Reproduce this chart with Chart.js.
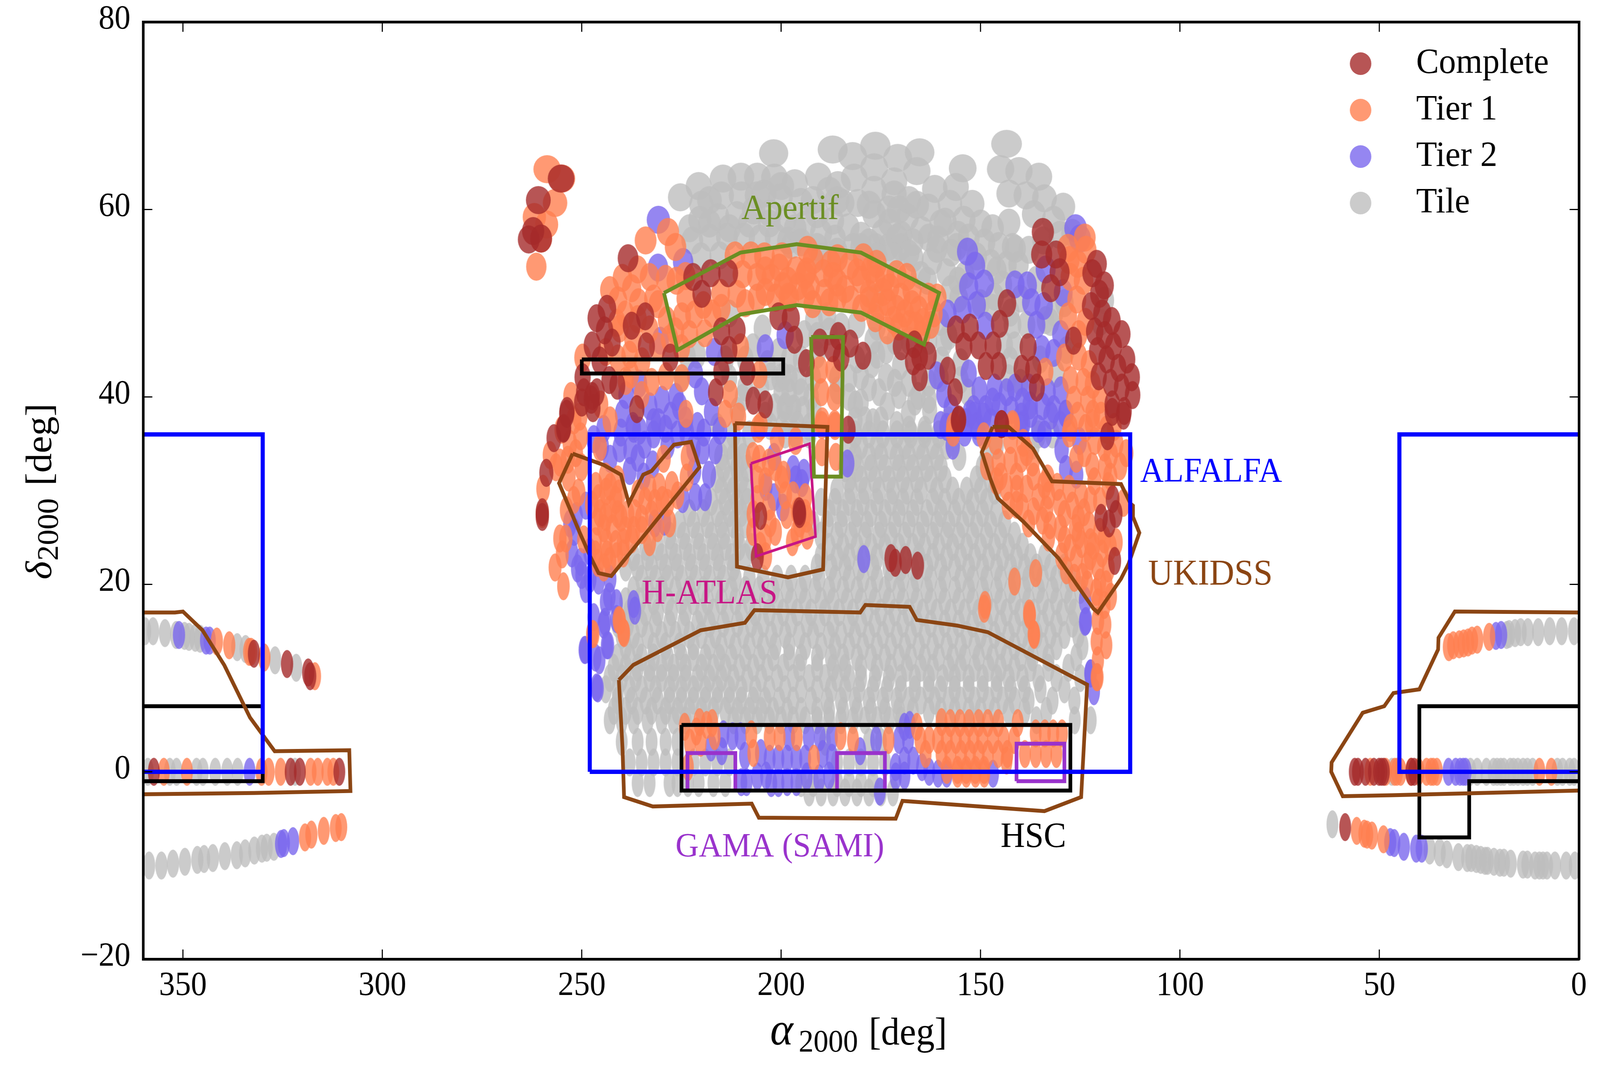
<!DOCTYPE html>
<html>
<head>
<meta charset="utf-8">
<script src="https://cdn.jsdelivr.net/npm/chart.js@4"></script>
<style>
  html, body { margin: 0; padding: 0; background: #fff; overflow: hidden; }
</style>
</head>
<body>
<!-- the window can come out narrower than asked for, so the drawing is fitted to it -->
<canvas id="sky" width="4317" height="2735" style="display:block;width:100vw;height:100vh"></canvas>
<script>
// Tile centres, [ra, dec] in degrees

const complete = [
  [255.2,63.3],[260.9,61],[262.2,57.7],[263.3,56.8],[260.2,56.9],[238.4,54.8],[222.1,52.8],[217.7,53.2],[213.3,53.2],[219.9,51],
  [243.7,49.4],[246.3,48.4],[234.1,48.6],[244.3,47.1],[237.5,47.6],[242.4,45.8],[247.4,45.5],[233.8,45.4],[227.8,44.2],[245.5,43.9],
  [215,47],[211.1,47.1],[213.1,45],[200.7,48.6],[197.6,48.4],[196.7,46.1],[215,42.7],[208.5,42.7],[249.8,42.1],[243.1,41.8],
  [241.1,41.2],[249.5,40.5],[246.2,40.5],[250,39.4],[247.4,40.1],[247.2,38.8],[247.6,39.7],[253.7,38.5],[254.5,36.7],[236.2,38.7],
  [216.4,40.5],[207,39.6],[204,39.2],[134.4,57.6],[134.7,55.2],[131.1,55.2],[130.2,53.3],[132.4,51.6],[120.9,54.2],[122,53.2],
  [119,51.9],[120.2,51],[122.3,49.7],[119.5,48.9],[117.1,48.1],[114.6,46.7],[121.4,47],[118.9,46.6],[116.7,45.4],[120.7,44.9],
  [113.3,44],[118.4,44],[115.5,43.1],[120.4,42.2],[117.4,41.5],[114.6,41],[112.1,42.1],[111.9,40.2],[117,39.2],[114,38.5],
  [126.7,46],[143.4,50],[156.2,47.2],[152.7,47.4],[145.2,47.8],[154.2,45.4],[150.6,45.5],[146.9,45.5],[148.7,43.3],[145.5,43.3],
  [138.1,45.3],[139.7,43],[136.8,42.9],[135.9,41],[158.3,42.8],[156.4,40.5],[155.5,37.6],[144.7,37.1],[193.7,43.6],[190.3,45.8],
  [187.2,45.2],[185.7,46.5],[182.7,45.7],[185,44.2],[179.5,44.4],[169.9,45.4],[166.6,45.6],[166.9,43.8],[165.3,44.3],[163.1,44.4],
  [165.3,42.1],[183.2,36.5],[258.9,31.9],[259.9,27.7],[259.9,27.2],[257,35.6],[254.6,36.6],[253.8,38.2],[206,22.9],[205.2,27.3],
  [195.5,27.8],[195.4,27.5],[155.6,37.5],[144.8,37.1],[117,38.4],[114.2,38],[118.2,35.8],[172.5,22.8],[171.4,22.3],[168.8,22.6],
  [165.8,22],[116.9,29.1],[119.8,27.1],[117.8,26.5],[116.1,27.5],[116.4,22.5],[332.2,12.6],[323.9,11.5],[318.6,10.6],[318.1,10.2],
  [357.3,0],[323,0],[320.7,0],[310.8,0],[56.2,0],[55.4,0],[53.5,0],[51.4,0],[50.1,0],[49.5,0],
  [48.9,0],[42,0],[41.3,0],[58.6,-5.9]
];

const tier1 = [
  [258.7,64.3],[255,63.3],[256.7,60.7],[261.9,59.2],[258.8,58.4],[260.2,56.9],[261.4,53.9],[234,56.7],[228.4,57.6],[226.5,56],
  [236,53.6],[239.8,52.7],[243,51.4],[237.5,51.6],[241,50.3],[235.8,50.1],[226.3,52.4],[230.9,49.9],[228.7,48.2],[239.1,48.8],
  [241.2,47.9],[224.9,48.6],[221.8,48.8],[217.3,48.9],[223.9,50.5],[215.2,51.1],[211.1,51],[211.6,55.1],[207.6,55.1],[204.2,55],
  [199.8,55],[209.7,53.1],[206.1,52.8],[202.5,52.7],[198.3,52.4],[201.4,50.6],[197.9,50.6],[223,46.7],[226.5,47],[219.2,46.8],
  [240.5,47.3],[237.2,46.2],[231,45.4],[241,44.1],[234.9,43.8],[237.7,42.4],[232.5,41.6],[228.9,42.2],[224.9,42],[210.2,45.3],
  [205.5,42.4],[212.8,40.3],[214,38.2],[210.7,37.9],[223.9,38.2],[249.8,44.2],[252.7,40.1],[250.5,37.9],[242.9,37.5],[245.3,39.2],
  [205.2,36.9],[193.4,55.7],[196.3,53.5],[193.6,53.4],[189.4,53.2],[185.9,54.8],[182.9,54],[179.4,54.9],[176.1,54.2],[171.1,53.1],
  [176.4,52.6],[172.8,51.7],[179.9,52.5],[185.9,52.2],[189.1,51.1],[192.7,51.8],[195.7,51.8],[198.3,50.7],[192.1,49.9],[182.6,50.4],
  [185.9,50.6],[179.9,49.5],[176.4,48.4],[173.4,50.1],[171.1,49.4],[167.2,51.4],[167.2,49.9],[163.1,50.7],[160.9,50.6],[164.5,48],
  [170.5,47.5],[167.8,47.8],[173.4,47.1],[164.8,46.7],[190.3,42.9],[186.9,42.9],[189.9,40.5],[186.7,40],[189.7,37.4],[186.5,36.9],
  [133.8,42.7],[142,36.9],[156.8,36.9],[123.9,57],[128.1,55.9],[123.6,55.7],[127.8,54.6],[125.7,54.2],[127.5,52.8],[124.2,52.4],
  [125.9,50.4],[128.1,48.6],[123.7,48],[125.4,46.7],[129,44.2],[125.4,44.3],[122.8,43.5],[127.5,41.8],[124.2,41.6],[121.9,41.3],
  [126.6,39.7],[123.1,39.7],[120.1,39.7],[125.7,38],[121.9,38.2],[119.8,38],[127.5,36.7],[123.7,36.7],
  [259.7,30.2],[259.9,27.5],[256.5,32.5],[253,35],[250.3,35.8],[250.1,32.5],[253.3,31.4],[250.8,29.8],[253.8,27.9],[255.5,24.9],
  [254,24.9],[254.9,23.2],[256.7,21.8],[254.6,19.8],[249.5,24.8],[245.5,34.6],[247.1,14.7],[240.5,16.1],[239.6,14.9],[241,31.2],
  [242.9,30.4],[245.8,29.2],[243.9,29.9],[240.7,29.7],[235.9,29.7],[233,30.3],[230.6,30.4],[227.4,30.6],[229.5,33.4],[223.4,33.6],
  [223.7,31.4],[228.5,28.7],[231.7,28.7],[234.1,28.9],[236.7,27.6],[240.2,27.1],[242.9,28],[245.5,27.6],[239.1,25.8],[242.3,26],
  [244.5,26],[246.1,26.7],[234.9,25.8],[237,25.8],[246.6,24.6],[243.9,24.5],[241.5,24.3],[239.6,24.5],[246.6,23.2],[243.7,23.2],
  [241.3,23],[239.6,23.3],[205.8,36.6],[207.1,33.7],[205.5,33.4],[203.1,33],[201.5,32.5],[199.4,31.7],[199.9,31.2],[196.4,35.3],
  [206,29.1],[203.1,28.3],[202.8,26.5],[201.5,25.6],[207.1,25.6],[205.3,24.1],[203.9,23],[198.6,27.4],[197,29.5],[194,29.3],
  [195.9,27.8],[194,27.6],[195.4,26.5],[197.2,24.5],[193.5,25.2],[189.8,37],[186.6,37.1],[189.8,34.1],[186.3,33.6],
  [156.9,36.2],[142,37.1],[149.2,35.8],[146.3,35.3],[142.5,35.4],[139.3,35.1],[148.4,32.6],[145.5,33],[142.5,33.2],[139.8,33.4],
  [138.5,34.1],[136.7,31.5],[143.6,30.4],[140.9,30.2],[138.5,30.2],[134,30.6],[130.8,30.4],[127.8,30.2],[143,28.4],[139.6,28.2],
  [136.7,27.8],[133.5,28],[130.2,28.7],[127,28.4],[124.1,27.7],[122.5,29],[120.1,28.9],[132.6,26.3],[130,26],[126.2,26],
  [122.8,26.3],[120.1,25.6],[114.2,28.7],[129.7,23],[127.6,23.9],[124.7,24.3],[121.7,24.1],[119.6,23.3],[126.5,20.7],[123.3,22],
  [120.6,21.9],[118,21.7],[123.3,20],[120.1,20.2],[117.4,18.7],[120.6,18.1],[119,17.8],[120.6,16.1],[118.8,15.7],[120.9,13.9],
  [118.5,13.5],[120.6,11.9],[120.9,10.1],[127.8,36.1],[121.4,35.3],[117.4,33.8],[115,32.6],[122,32.6],[118.8,32.5],[133.2,31.3],
  [148.9,17.8],[141.5,20.3],[136.2,21.2],[137.8,16.9],[136.6,14.6],
  [224.2,4.8],[220.5,5.3],[218.7,5],[217.3,5.2],[221.3,4.3],[216.7,3.8],[222.9,3.1],[220.2,3.1],[223.4,0.5],[207.5,4],
  [207,2],[202.9,3.7],[200.4,3.7],[196.1,3.7],[191.8,1.4],[185.1,3.8],[182,3.4],[173.1,3.4],[166,4.8],[159.8,5.3],
  [157.6,5.2],[155.2,5.2],[152.9,5.2],[150.5,5.2],[148.2,5.2],[145.6,5.2],[140.7,5.2],[165.1,3.4],[162.9,3.4],[160.7,3.4],
  [158.5,3.4],[156.2,3.4],[154,3.4],[151.8,3.4],[149.6,3.4],[146.9,3.4],[144.2,3.4],[141.6,3.4],[163.8,1.9],[159.8,1.9],
  [157.6,1.9],[154.9,1.9],[152.7,1.9],[150.5,1.9],[148.2,1.9],[145.6,1.9],[143.3,1.9],[138.9,1.9],[136.2,1.9],[133.6,1.9],
  [131,1.9],[158.5,0.2],[155.8,0.2],[153.6,0.2],[151.3,0.2],[149.1,0.2],[136.2,4.1],[133.9,4.1],[131.8,4.1],[129.6,4.1],
  [143.5,1.2],[149.1,-0.2],[155.8,-0.2],[153.6,-0.2],[151.3,-0.2],[247.4,14.7],[240.7,16.2],[239.4,14.8],[149.1,17.4],[137.7,16.7],
  [136.7,14.7],[120.7,10.1],
  [341.5,13.9],[338.4,13.5],[333.4,12.8],[332.9,12.8],[329.6,12.2],[316.9,10.2],[354.8,0],[349,0],[330.3,0],[328.5,0],
  [325.5,0],[318,0],[316.2,0],[313.8,0],[312.3,0],[319.4,-7],[317.8,-6.7],[314.7,-6.3],[311.7,-6],[310.3,-5.9],
  [32.6,13.3],[31.5,13.5],[30,13.6],[28.9,13.7],[27.8,13.8],[26.8,14],[25.5,14.1],[22.5,14.4],[52.3,0],[48.4,0],
  [46.2,0],[45.6,0],[44.7,0],[42.1,0],[40.2,0],[38.2,0],[37.1,0],[36.5,0],[35.6,0],[9.9,0],
  [6.9,0],[55.7,-6.3],[53.8,-6.6],[53.1,-6.7],[51.9,-6.8],[49,-7.2],
  // Apertif band and the filled parts of the wings
  [204,53.5],[200.5,53.8],[192,54.6],[187.5,54.2],[177.5,53.6],[174,52.7],[168.5,52.8],[181,53.3],[187,52.9],[194,53],
  [204,51.2],[199.5,51.8],[193.8,50.9],[188,50.1],[184,51.5],[178,51],[174.5,51.2],[170,50.7],[175.5,49.6],[169,48.9],
  [165.5,49.3],[161.8,48.9],[171.8,48.2],[166.3,47.6],[162.5,47.7],[178,50.3],[206,50.6],[209,50],[215,49.5],[219.5,49.8],
  [224,52.9],[229,52.6],[233,52.8],[232,50.5],[236,48.3],[233,47.2],[228,46.2],[225,45.2],[238,44.5],[244,44.8],[239,41.7],[235,40.2],
  [241,27.5],[244,27.2],[247.5,28.5],[246.5,30.5],[244,31.5],[241.5,29],[238.5,27.5],[235,27],[232.5,27.5],[229.8,29],
  [226,29.5],[237.5,24.8],[233,24.5],[231,26],[228,26.5],[243,22.5],[246,22.3],[244.5,21.8],[251.5,34],[253.5,33.3],
  [252,29],[255.5,33],[258,33.8],[255,36.5],[252,37.5],
  [137,33],[141,31.5],[145,31.5],[135.5,29.3],[133,29.5],[129,27.5],[125.5,27],[129,24.8],[125.5,25.2],[122.5,24.5],
  [126,22.8],[122.5,23],[119,24.8],[116,24.5],[124.5,20.8],[121,19.2],[118.5,20],[117.5,24],[141,28.5],[146,31],
  [118,30.5],[121.5,31],[124.8,29.5],[133,25],[128.5,21.5],[138,26.5],[134.5,26.8],[118.5,36.5],[116,35],[113.5,34],
  [124,34],[126,33.4],[119,34.6],[122,37.2],[117.5,31.5],[116.5,36.8],
  [204,31],[206,31.2],[207,27.5],[204,25],[199,29.5],[196,25.5],[193.6,27],[201,35.5]
];

const tier2 = [
  [230.8,58.9],[230.9,53.8],[224.6,54.4],[230.3,46],[216.8,44.8],[204,45.2],[199,46.6],[221.6,42.4],[219.9,40.6],[238.9,40.2],
  [235.6,41.4],[233,39],[229.9,39.7],[226.4,40],[230.8,37.3],[227.7,38],[239.8,38.2],[217.5,38.4],[237.2,36.9],[153.3,55.5],
  [151.4,54],[153,51.8],[149.1,52.1],[151,49.8],[158.3,48.9],[154.6,49.3],[148.8,47.6],[141.4,52],[138.3,51.9],[137.3,50.1],
  [134.2,49.7],[136,47.7],[126.2,58],[125.1,56.9],[133.7,53.6],[129.3,51.1],[129.9,46.7],[131.7,44.7],[134.6,45.1],[161,42.3],
  [159.2,40.3],[157.4,38.8],[150.3,40.7],[146.5,41],[141.4,41],[137.9,41],[151.8,38.7],[148.8,38.7],[145.3,39],[142.3,38.6],
  [137.6,39.1],[133.1,40.5],[129.9,40.7],[131.7,38.7],[128.7,38.2],[152.7,38.2],[150.9,36.9],[139.4,37.1],
  [245,34.7],[242.9,33.4],[240.2,36.2],[237,36.6],[234.3,34.9],[237.8,34.3],[238,32.1],[232.2,32.8],[229,36.6],[223.7,36.2],
  [219.4,36.2],[215.4,36.4],[219.7,34.3],[216.5,34.3],[218.1,31.7],[221.8,32.1],[221.5,29.3],[219.1,29.3],[224.7,29.1],[231.7,26.5],
  [229.3,26.7],[251.4,27.3],[249,28.4],[251.9,25.6],[252.5,23.3],[251.1,21.7],[250.3,22.4],[247.9,20.6],[245.8,20.4],[242.9,20.6],
  [243.1,18.7],[241.3,18],[237,17.9],[243.9,18.1],[244.5,15.7],[241.3,16.3],[243.7,13.5],[246.6,12.2],[249.3,13],[246.3,9],
  [201.8,33.6],[203.9,30.4],[201.8,29.3],[199.6,28.2],[197,32.3],[194.3,31.9],[196.4,31.2],[194.8,30.8],[183.4,32.9],[179.3,22.7],
  [129.7,34.4],[128.6,32.3],[126,31.7],[125.2,35.3],[123.8,18.3],[123.6,16.1],[122.5,10.5],[154,36.2],[150.5,36.2],[139.8,36.9],
  [153.7,37.3],[151.6,38],[149.2,37.9],[139.8,37.9],[137.5,38.2],[132.4,38],[128.6,38.2],
  [214.5,4],[212.2,3.8],[210.2,3.8],[214.9,2.2],[217.6,2.6],[198,3.7],[193.1,3.7],[190.3,3.7],[187.3,3.7],[180.2,2.2],
  [176.2,3.4],[169.1,4.8],[167.8,5],[170.5,3.4],[168.2,3.4],[209.1,1.7],[205.1,2],[202.9,1.4],[200.7,1.4],[198.5,1.4],
  [196.2,1.4],[194,1.4],[189.6,1.9],[187.3,1.5],[171.3,0.5],[169.1,1.2],[166.9,1.2],[164.7,0.5],[162.9,0],[160.7,-0.2],
  [158.5,-0.2],[146.9,-0.2],[210,-1.1],[208.7,-1.1],[206,-0.5],[203.8,-0.4],[202.5,-1.2],[200.7,-1.2],[198.5,-1.1],[196.2,-1.1],
  [193.6,-0.5],[190.5,-0.7],[188,-0.4],[175.3,-2.1],[171.3,-0.5],[169.1,-0.4],[249.1,13],[245.6,11.9],[246,8.9],[243.4,13.5],
  [244.2,16],[236.7,17.2],[123.8,16],[122.4,10.5],[121.6,8.6],
  [351,14.6],[344.2,14],[343.3,14],[333.3,0],[325.4,-7.7],[324.7,-7.6],[322.4,-7.4],[20.8,14.5],[19.5,14.6],[32.7,0],
  [30.9,0],[29.8,0],[29,0],[28.4,0],[47.3,-7.5],[46.3,-7.6],[43.9,-8],[40.8,-8.2],[39.4,-8.2],
  [224,37.5],[221,36.9],[226,36],[232,36],[235.5,36.4],[228.5,34.8],[240.5,34.5],[244.5,36.6],[247,35.5],[225.5,39],
  [232,37.3],[236,33.5],[222,34.5],[234.5,31.5],[147,39.5],[143.5,40.5],[139.5,39.5],[134.5,39],[147.5,37.3],[153,42.5],
  [160,37],[158.5,36.8],[135.5,36.6],[130,37],[134,36],[157,34.8],[250,21],[253,26.5],[249,19.5],[248,23.5],[247,16.5]
];

// grey tiles in the northern cap and the three equatorial strips
const tileNorth = [
  [201.9,66],[225.3,61.3],[220.7,62.5],[214.6,63.3],[210.1,63.5],[206,63.5],[201.7,63.4],[218,61],[204.3,61.7],[220.4,58.9],
  [215.9,59.2],[211.1,59.4],[206.9,59.9],[202.8,59.6],[200.2,61.3],[222.3,56.7],[217.9,57],[213.6,57.1],[209.3,57.1],[205.4,56.9],
  [201.4,57.1],[197.4,56.2],[220.1,55],[215.4,55.1],[187.1,66.4],[182.1,65.7],[176.4,66.8],[170.8,65.5],[165.3,66.1],[143.5,67],
  [154.5,64.4],[145,64.3],[140.4,64.1],[135.4,63.5],[190.7,63.5],[196.6,62.8],[185.8,62.6],[181.7,63.4],[176.7,64.5],[171.7,63],
  [166,64.1],[161.5,62.2],[156.2,62.4],[142.9,61.7],[138.6,61.5],[134,61.2],[129.3,60.3],[195.1,60.8],[176.7,62.1],[171.7,61.6],
  [152.1,60.6],[157.7,60.6],[163.1,60.2],[184.7,60.7],[180.8,60.7],[176.7,59.5],[168.4,59.2],[172.8,58.6],[154.2,58.9],[158.9,58.7],
  [142.9,58.6],[136.7,59.5],[131.7,58.9],[164.8,57.8],[155.7,57.3],[160.7,56.8],[169.9,57.3],[180,57.2],[183.2,58.1],[186.5,56.9],
  [187.1,58.8],[194.1,58.4],[198.3,56.7],[174.6,57.5],[176.4,56],[173.1,56],[166.9,54.8],[162.2,54.5],[157.4,55.4],[145.5,56.1],
  [141.3,55.8],[137.9,55.7],[134.3,56.7],[130.2,57.3],[163.4,52.4],[158.6,53.3],[147.4,54.3],[143.5,54.1],[140.5,54.1],[155.7,52.4],
  [118.9,50.3],[142,47.7],[133.7,48.2],[146.5,50.7],[188.5,48.6],[191.8,48.2],[181.1,47.7],[194.2,46.7],[177,46],[173.7,45],
  [177.3,43.5],[170.2,43.3],[173.7,42.1],[180,42.2],[170.5,40.2],[165.7,40.1],[173.4,39],[180,39.4],[177,37.3],[199.5,42.2],
  [195.7,41.7],[198.9,39],[196.8,38.8],[194.5,38.6],[191.8,38.6],[185.9,40.7],[182.9,42],[181.4,39.2],[168.1,38.2],[162.8,38.6],
  [155,41.8],[155,43.7],[153.3,40.5],[159.8,43.9],[159.2,45.8],[142.6,43.9],[132.5,48],[138.5,47.7],[223.5,44.3],[213,48.9],
  [204.7,47.3],[207.1,45.3],[200.7,44.8],[202.6,42.2],[200.5,42],[197.9,42],[209.7,39.9],[201.6,38.9],[199.3,38.8],[197.1,38.7],
  [202.8,36.9],[176.5,50.5],[170,56],[191,44.5],[188,47],
  [168,61],[173,60],[178,60.5],[186,61],[191,59.5],[199,59],[196.5,58],[190,57.5],[203,58.5],[208,58.5],
  [213,58],[218,58.5],[223,58],[220,60.5],[215,61.5],[210,61.5],[206,61.5],[200,62.5],[192,61],[188,62],
  [170.5,60],[166,60.5],[160,58.5],[163,57],[167,56.5],[171,57],[178,56.5],[182,56],[191,56],[195,56.5],
  [150,58.5],[149,56.5],[147,58],[151,55],[156,56],[161,55.8],[165,53],[168,55.3],[172,55],[176,55],
  [180,56],[186,55.5],[190,55],[154,53],[157.5,51.5],[150,50],[146,53.5],[144.5,52],[140,50.5],[142.5,49],
  [147,49.5],[155.5,50.5],[160,48],[158,46.5],[163,46],[168,46],[171.5,46],[176,47.5],[185,47.5],[191,46.5],
  [198,44],[195,44],[203.5,43.5],[209,44],[214,44],[221,44.5],[225,42],[176,44.5],[181,44],[186,42],
  [192,42],[195,40.5],[200,40.5],[205,41],[209,41],[213,42],[175.5,40.5],[171.5,41.5],[168,41.5],[163,41.5],
  [160,42],[166.5,39.5],[163,39.7],[158,37.5],[175,37.5],[171,37],[168,36.5],[164,36.5],[199.5,37],[196,37],
  [193,36.8],[208,36],[204,38],[181.5,37.5],[179,37.5],[178,41],[183,40],[192.5,40],[198,40.5],[211,38.5],
  [216,36.8],[144,45.5],[141.5,45.5],[143,42],[140,41.5],[131,42.5],[128.5,45],[135,44],[129,50],[131.5,49],
  [127,57.5],[136,52.5],[142,56],[153,57],[120,48]
];

const tileStrips = [
  [359.5,15],[357.5,15],[354.5,14.8],[351.7,14.6],[349.6,14.5],[348.5,14.4],[346.9,14.3],[345.7,14.2],[336.4,13.3],[334.3,13.1],
  [326.9,11.9],[321.6,11.1],[358.8,0],[353.3,0],[351.6,0],[346.6,0],[345,0],[341.9,0],[338.9,0],[336.3,0],
  [321.9,0],[358.5,-10],[355.4,-10],[352.5,-9.8],[349.5,-9.6],[346.4,-9.4],[344.7,-9.3],[342.5,-9.2],[339.5,-9],[336.5,-8.9],
  [334.4,-8.7],[332.1,-8.4],[330.2,-8.2],[329,-8.1],[327.2,-8],[18.1,14.6],[17.5,14.7],[16,14.8],[14.6,14.9],[12.8,14.9],
  [10.2,14.9],[7.3,15],[4.3,15],[1.2,15],[46.9,0],[27.2,0],[25.5,0],[23.2,0],[21.4,0],[20.5,0],
  [19.6,0],[18.8,0],[17.2,0],[16.4,0],[15.3,0],[14,0],[12.9,0],[11.6,0],[5.4,0],[4.1,0],
  [2.3,0],[1.2,0],[61.8,-5.6],[37.4,-8.4],[34.9,-8.6],[33.1,-8.8],[30.2,-9.1],[28,-9.2],[27,-9.2],[25.7,-9.3],
  [24.6,-9.4],[23.5,-9.5],[22.9,-9.5],[21.3,-9.6],[19.8,-9.7],[18.8,-9.7],[17.1,-9.8],[14,-9.9],[12.9,-9.9],[11,-10],
  [9.9,-10],[9,-10],[8,-10],[6,-10],[3.2,-10],[1,-10]
];

// grey tiles of the main block, one list of ra per dec row
const bandDec = [36,33.6,31.2,28.8,26.4,24,21.8,19.4,17,14.6,12.2,10,7.6,5.5,3.2,1,-1.2,-2.2,
                 34.8,32.4,30,27.6,25.2,22.9,20.6,18.2,15.8,13.4,11.1,8.8,6.5];
const bandRa = [
  [212,199,196.5,193,181.5,178,174.5,171,167.5,164,160.5,135.5,132],
  [215,212,209.5,181.5,178,175,171,168,164.5,161,155.4,148.5],
  [216,213,210,183,180,176.5,173,169.5,166,162.5,159,151,147.5],
  [217.5,214,211,208.5,190,186.5,183,179.5,176,172.5,169.5,166,162,159,155.5,152,148.5],
  [225.5,222,218.5,215,212,209,192,188.5,185,181.5,178.5,175,171.5,168,164.5,161,158,154.5,151,147.5,144],
  [234,231,227.5,224,220.5,217,214,210.5,207.5,188,184.5,181,177.5,174,170.5,167,164,160.5,157,153.5,150,146.5,143,139.5],
  [239,236,232.5,229,226,222.5,219,215.5,212,191,187.5,184,180.5,177,173,170,167,163.5,160,156.5,153,149.5,146,142.5,139,136,132.5,129],
  [237,233.5,230,226.5,223,219.5,216,212.5,209,205.5,202,198.5,195,191.5,188,184.5,181,177.5,174,170.5,167,163.5,160,156.5,153,149.5,146,142.5,139,135.5,132,128.5,125],
  [238,234,231,227.5,224,220,217,213.5,210,206.5,203,199.5,196,192.5,189,185.5,182,178.5,175,171.5,168,164.5,161,157.5,154,150.5,147,143.5,140,136.5,133,129.5,126.5],
  [240,237,233.5,230,226.5,223,220,216.5,213,209.5,206,202.5,199,195.5,192,188,185,181.5,178,174.5,171,167.5,164,160.5,157,153.5,150,146.5,143,139.5,136,132.5,129,125.5],
  [241,238,235,232,228.5,225,222,219,215.5,212.5,209,205.5,202,198,195,191,187.5,184.5,181,177.5,174,170.5,167.5,164,160.5,157,154,150.5,147,143.5,140,137,133,126],
  [243,240,236.5,233,230,227,224,221,218,215,212,208.5,205,201,197,193,189,186,183,180,176.5,173,170,166.5,163,159.5,156.5,153,149.5,146,143,139.5,135.5,131,125],
  [241,237.5,234,231,228,225,222,219,216,213,210,207,204,200.5,197,192.5,188.5,185,181.5,178,174.5,171,168,165,161.5,158,155,151.5,148,144.5,141.5,138,132,126.5],
  [243,240,237,233.5,230,227,224,212,209,206,203,200,197,194,191,188,185,182,179,176,173,170,136,126.4,122.4],
  [240,236,232.5,229,226,189,178,175],
  [238,235,232,229,226,222,219,216,213,186,183,180,177,174],
  [236,233,228,226,223.4,220.7,217,214,195,192,186,183,180,177],
  [193,190,187,184,181,178,175,172],
  [213,210.5,183,180,176,172.5,169,165.5,162,158.5,146,137],
  [214.5,211,208.5,184,181,177.5,174,170.5,167,163.5,160,149.5],
  [215,212,209,186,182.5,179,175.5,172,168.5,165,161,157,153.5,150,146.5],
  [223,219.5,216,213,210,188,184.5,181,177.5,174,170.5,167,163.5,160,156.5,153,149.5,146],
  [228,224.5,221,217.5,214.5,211,190,186,182.5,179,175.5,172.5,169,165.5,162,158.5,155.5,152,148.5,145,141.5],
  [237,233.5,230,226.5,223,219.5,216,212.5,209,190,186,183,179.5,176,172,169,165.5,162,158.5,155,151.5,148,144.5,141,137.5,134],
  [235,231.5,228.5,225,221.5,218,214.5,211.5,208,204.5,201,197.5,194,190.5,186.5,183,179.5,176,172.5,169.5,166,162.5,159,155,152,148.5,145,141.5,138,134.5,131,127.5],
  [239,235.5,232,228.5,225,222,218.5,215,211.5,208,204,201,197.5,194,190,187,183.5,180,176.5,173,169.5,166,162.5,159,155.5,152,148.5,145,141.5,138,134.5,131,127.5],
  [241,238.5,235,231.5,228,224.5,221,218,214.5,211,207.5,204.5,201,197.5,193.5,190.5,187,183,180,176.5,173,169.5,166,162.5,159,155.5,152,148.5,145,141.5,138,134.5,131,127],
  [239,236,232,229,225.5,222,218,215,211.5,208,204.5,201.5,198,194,190,186.5,183,179.5,176,172.5,169,165.5,162,158.5,155,151.5,148.5,145,141.5,138,134.5,131,124.5],
  [242,239,236,233,230,227,224,220,217,214,210.5,207,203.5,199.5,195.5,191,187,184,180,176,172.5,168.5,165,162,158,155,151.5,148,145,141.5,137.5,133,128],
  [244,241,238,235,231.5,228,225,222,219,216,213,210,206.5,203,199,195,191,187.5,184,180.5,177,173.5,170,166.5,163,160,156.5,153,149.5,146,142.5,139,135,129],
  [242,239,236,232.5,229,226,223,220,217,214,211,208,205,202,198.5,195,191,188,184.5,181,177.5,174,170.5,167,163,160,156.5,153,150,146.5,143,139,133.5]
];

// survey outlines
const alfalfaMain = [[248,0],[248,36],[112.5,36],[112.5,0],[248,0]];
const alfalfaWest = [[360,0],[330,0],[330,36],[360,36]];
const alfalfaEast = [[0,0],[45,0],[45,36],[0,36]];
const hscMain = [[225,5],[127.5,5],[127.5,-2],[225,-2],[225,5]];
const hscNorth = [[250,44],[199.5,44],[199.5,42.5],[250,42.5],[250,44]];
const hscWest = [[360,7],[330,7],[330,-1],[360,-1]];
const hscEast = [[0,7],[40,7],[40,-7],[27.5,-7],[27.5,-1],[0,-1]];
const samiA = [[223.5,-2],[223.5,2],[211.5,2],[211.5,-2]];
const samiB = [[186,-2],[186,2],[174,2],[174,-2]];
const samiC = [[141,-1],[141,3],[129,3],[129,-1],[141,-1]];
const atlasNgp = [[207.6,32.9],[192.9,35],[191.4,25.1],[206.3,23],[207.6,32.9]];
const apertifArc = [[229.4,51.1],[210.2,55.4],[196.1,56.3],[180,55.4],[160.4,51.1],[164.2,45.6],[180,49],[196.1,49.8],[210.2,48.8],[226,45],[229.4,51.1]];
const apertifStrip = [[192.5,46.4],[184.5,46.4],[185,31.5],[191.8,31.5],[192.5,46.4]];
const ukidssWing = [[252.3,33.95],[244.5,32.74],[240.2,31.7],[238.2,28.65],[234.6,31.7],[232.5,32.1],[226.9,34.9],[222.6,35.2],[220.5,32.5],[242.6,20.9],[245.8,21.2],[247.9,23],[250.6,25.6],[255.7,30.8],[252.3,33.95]];
const ukidssBox = [[211.6,37.2],[188.4,36.8],[189.5,21.6],[198.3,20.75],[211.1,21.9],[211.6,37.2]];
const ukidssEast = [[147,36.8],[143,36.8],[136.9,34.5],[132.1,31],[114.8,30.7],[112.4,28.6],[111.8,28.4],[111.8,27.2],[110.2,25.5],[112.9,22.2],[114.8,20.6],[120.6,17],[121.7,17.4],[130.5,22.8],[139.3,26.7],[145.7,29.2],[147.6,31.3],[149.7,34.1],[147,36.8]];
const ukidssSouth = [[240.7,9.8],[237.1,11.4],[220.2,15.1],[209.1,15.9],[206.7,17.25],[180.2,17],[178.9,17.8],[167.8,17.6],[166,16.2],[155.8,15.6],[148.2,14.9],[123.3,9.3],[124.8,-2.7],[134,-4.2],[169.6,-3.1],[171.3,-5],[205.6,-4.9],[207.4,-3.4],[232.2,-3.7],[239.4,-2.7],[239.8,2.6],[240.7,9.8]];
const ukidssWest = [[360,17],[352,17],[350,17.1],[345.1,15.1],[339.6,11.35],[333.2,5.8],[327,2.2],[308.3,2.3],[308,-2.05],[332.2,-2.26],[360,-2.4]];
const ukidssEquator = [[0,17],[31.1,17.1],[35.2,14.3],[35.3,13.05],[40,8.8],[46.5,8.4],[48.8,7],[54.2,6.3],[62,1],[62.1,0],[59.2,-2.6],[46.9,-2.5],[0,-2]];

const xTickValues = [0,50,100,150,200,250,300,350];
const yTickValues = [-20,0,20,40,60,80];
const legendNames = ["Complete","Tier 1","Tier 2","Tile"];
const surveyNames = ["Apertif","ALFALFA","UKIDSS","H-ATLAS","GAMA (SAMI)","HSC"];
const surveyRa = [210,110,108,235,226.5,145];
const surveyDec = [59,31,20,18,-9,-8];
const tileDiameter = 3; // degrees on the sky

const serif = "'Liberation Serif', serif";
const surveyStyles = [
  { color: "#6b8e23", size: 91 },
  { color: "#0000ff", size: 88 },
  { color: "#8b4513", size: 93 },
  { color: "#c71585", size: 88 },
  { color: "#9932cc", size: 87 },
  { color: "#000000", size: 91 },
];
const seriesColors = ["rgba(165,42,42,0.8)","rgba(255,127,80,0.8)","rgba(123,104,238,0.8)","rgba(190,190,190,0.8)"];

const toXY = (p) => ({ x: p[0], y: p[1] });

const bandPoints = [];
bandDec.forEach((dec, i) => bandRa[i].forEach((ra) => bandPoints.push([ra, dec])));

// one small canvas per colour and size, chart.js draws it as the point style
const stamps = {};
function stamp(color, w, h) {
    const key = color + w + "x" + h;
    if (!stamps[key]) {
        const c = document.createElement("canvas");
        c.width = w + 2;
        c.height = h + 2;
        const g = c.getContext("2d");
        g.fillStyle = color;
        g.beginPath();
        g.ellipse(c.width / 2, c.height / 2, w / 2, h / 2, 0, 0, Math.PI * 2);
        g.fill();
        stamps[key] = c;
    }
    return stamps[key];
}

function tileStyle(color) {
    return function (ctx) {
        if (!ctx.raw) return "circle";
        const sx = ctx.chart.scales.x;
        const sy = ctx.chart.scales.y;
        const dRa = tileDiameter / Math.cos(ctx.raw.y * Math.PI / 180);
        const w = Math.abs(sx.getPixelForValue(dRa) - sx.getPixelForValue(0));
        const h = Math.abs(sy.getPixelForValue(tileDiameter) - sy.getPixelForValue(0));
        return stamp(color, Math.round(w), Math.round(h));
    };
}

function tileSet(label, pts, color, order) {
    return {
        label: label,
        data: pts.map(toXY),
        order: order,
        showLine: false,
        pointRadius: 20,
        pointBorderWidth: 0,
        pointStyle: tileStyle(color),
        clip: 0,
    };
}

function outline(pts, color, width, order) {
    return {
        label: "outline",
        data: pts.map(toXY),
        order: order,
        showLine: true,
        fill: false,
        tension: 0,
        pointRadius: 0,
        borderColor: color,
        borderWidth: width,
        borderJoinStyle: "miter",
        clip: 0,
    };
}

const skyText = {
    id: "skyText",
    afterLayout(chart) {
        // legend sits inside the axes, top right
        chart.legend.left = 3540;
        chart.legend.top = 90;
    },
    afterDraw(chart) {
        const g = chart.ctx;
        const { x, y } = chart.scales;
        g.save();
        g.textAlign = "left";
        g.textBaseline = "alphabetic";
        surveyNames.forEach((name, i) => {
            g.font = surveyStyles[i].size + "px " + serif;
            g.fillStyle = surveyStyles[i].color;
            g.fillText(name, x.getPixelForValue(surveyRa[i]), y.getPixelForValue(surveyDec[i]));
        });
        g.fillStyle = "#000";
        // x axis title
        g.font = "italic 118px " + serif;
        g.fillText("α", 2078, 2675);
        g.font = "80px " + serif;
        g.fillText("2000", 2155, 2693);
        g.font = "100px " + serif;
        g.fillText("[deg]", 2344, 2675);
        // y axis title
        g.translate(138, 1484);
        g.rotate(-Math.PI / 2);
        g.font = "italic 100px " + serif;
        g.fillText("δ", 0, 0);
        g.font = "80px " + serif;
        g.fillText("2000", 48, 18);
        g.font = "100px " + serif;
        g.fillText("[deg]", 240, 0);
        g.restore();
    },
};

function fixedTicks(values) {
    return (scale) => { scale.ticks = values.map((v) => ({ value: v })); };
}

function axisBase(values) {
    return {
        type: "linear",
        afterBuildTicks: fixedTicks(values),
        grid: { drawOnChartArea: false, drawTicks: true, tickLength: -25, lineWidth: 3, color: "#000", z: 1 },
        border: { display: true, width: 7, color: "#000", z: 1 },
    };
}

// axis boxes get fixed sizes so the plot area lands where it does in the figure
function fitBox(side, size) {
    return (s) => {
        s[side] = size;
        s.paddingLeft = s.paddingRight = s.paddingTop = s.paddingBottom = 0;
    };
}

new Chart("sky", {
    type: "scatter",
    data: {
        datasets: [
            tileSet(legendNames[0], complete, seriesColors[0], 10),
            tileSet(legendNames[1], tier1, seriesColors[1], 11),
            tileSet(legendNames[2], tier2, seriesColors[2], 12),
            tileSet(legendNames[3], tileNorth.concat(tileStrips, bandPoints), seriesColors[3], 13),
            outline(alfalfaMain, "#0000ff", 11, 1),
            outline(alfalfaWest, "#0000ff", 11, 1),
            outline(alfalfaEast, "#0000ff", 11, 1),
            outline(ukidssWing, "#8b4513", 10, 2),
            outline(ukidssBox, "#8b4513", 10, 2),
            outline(ukidssEast, "#8b4513", 10, 2),
            outline(ukidssSouth, "#8b4513", 10, 2),
            outline(ukidssWest, "#8b4513", 10, 2),
            outline(ukidssEquator, "#8b4513", 10, 2),
            outline(hscMain, "#000000", 10, 3),
            outline(hscNorth, "#000000", 10, 3),
            outline(hscWest, "#000000", 10, 3),
            outline(hscEast, "#000000", 10, 3),
            outline(apertifArc, "#6b8e23", 10, 4),
            outline(apertifStrip, "#6b8e23", 10, 4),
            outline(atlasNgp, "#c71585", 7, 5),
            outline(samiA, "#9932cc", 10, 6),
            outline(samiB, "#9932cc", 10, 6),
            outline(samiC, "#9932cc", 10, 6),
        ],
    },
    options: {
        responsive: false,
        devicePixelRatio: 1,
        animation: false,
        layout: { padding: 0, autoPadding: false },
        scales: {
            x: Object.assign(axisBase(xTickValues), {
                position: "bottom",
                min: 0,
                max: 360,
                reverse: true,
                afterFit: fitBox("height", 278.5),
                ticks: {
                    color: "#000",
                    font: { family: serif, size: 86 },
                    padding: 42,
                    maxRotation: 0,
                    autoSkip: false,
                },
            }),
            y: Object.assign(axisBase(yTickValues), {
                position: "left",
                min: -20,
                max: 80,
                afterFit: fitBox("width", 386),
                ticks: {
                    color: "#000",
                    font: { family: serif, size: 86 },
                    padding: 59,
                    labelOffset: -6,
                    callback: (v) => String(v).replace("-", "\u2212"),
                },
            }),
            xTop: Object.assign(axisBase(xTickValues), {
                axis: "x",
                position: "top",
                min: 0,
                max: 360,
                reverse: true,
                afterFit: fitBox("height", 56.5),
                ticks: { display: false },
            }),
            yRight: Object.assign(axisBase(yTickValues), {
                axis: "y",
                position: "right",
                min: -20,
                max: 80,
                afterFit: fitBox("width", 57),
                ticks: { display: false },
            }),
        },
        plugins: {
            tooltip: { enabled: false },
            legend: {
                position: "chartArea",
                align: "start",
                labels: {
                    usePointStyle: true,
                    pointStyleWidth: 208,
                    boxHeight: 41,
                    padding: 27,
                    color: "#000",
                    font: { family: serif, size: 92, lineHeight: 1 },
                    generateLabels: () => legendNames.map((name, i) => ({
                        text: name,
                        datasetIndex: i,
                        hidden: false,
                        lineWidth: 0,
                        fontColor: "#000",
                        fillStyle: seriesColors[i],
                        strokeStyle: seriesColors[i],
                        pointStyle: stamp(seriesColors[i], 58, 58),
                    })),
                },
            },
        },
    },
    plugins: [skyText],
});
</script>
</body>
</html>
